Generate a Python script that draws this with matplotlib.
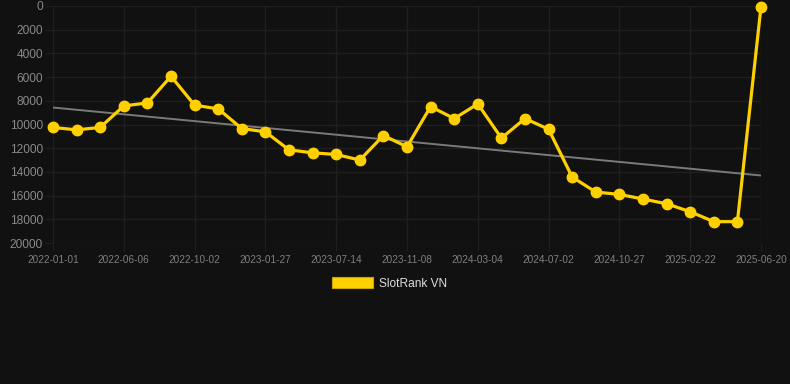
import matplotlib
matplotlib.use("Agg")
import matplotlib.pyplot as plt
from matplotlib.patches import Patch
import numpy as np

plt.rcParams['font.family'] = ['Liberation Sans', 'DejaVu Sans']

dates = ["2022-01-01", "2022-02-22", "2022-04-15", "2022-06-06", "2022-07-15", "2022-08-24",
         "2022-10-02", "2022-11-10", "2022-12-19", "2023-01-27", "2023-03-23", "2023-05-18",
         "2023-07-14", "2023-08-27", "2023-09-24", "2023-11-08", "2023-12-17", "2024-01-25",
         "2024-03-04", "2024-04-12", "2024-05-23", "2024-07-02", "2024-08-09", "2024-09-18",
         "2024-10-27", "2024-12-05", "2025-01-14", "2025-02-22", "2025-04-01", "2025-05-11",
         "2025-06-20"]
ranks = [10250, 10450, 10250, 8430, 8180, 5930, 8370, 8680, 10340, 10620, 12140, 12390,
         12530, 13000, 10930, 11880, 8490, 9500, 8260, 11150, 9500, 10400, 14440, 15700,
         15900, 16290, 16690, 17360, 18200, 18200, 60]
series_name = "SlotRank VN"
y_ticks = list(range(0, 20001, 2000))

BG = '#111111'
GRID = '#1f1f1f'
YELLOW = '#FFD000'

fig = plt.figure(figsize=(7.9, 3.84), dpi=100, facecolor=BG)
ax = fig.add_axes([53/790, 1-243/384, 708/790, 237/384], facecolor=BG)

x = np.arange(len(dates))
coef = np.polyfit(x, ranks, 1)
ax.plot(x, np.polyval(coef, x), color='#7a7a7a', lw=1.4, zorder=2)
ax.plot(x, ranks, color=YELLOW, lw=2.3, marker='o', markersize=7.5,
        markerfacecolor=YELLOW, markeredgecolor=YELLOW, zorder=3, clip_on=False)

ax.set_xlim(0, len(dates)-1)
ax.set_ylim(20000, 0)
ax.set_yticks(y_ticks)
ax.set_yticklabels([str(v) for v in y_ticks])
lab_idx = list(range(0, len(dates), 3))
ax.set_xticks(lab_idx)
ax.set_xticklabels([dates[i] for i in lab_idx])

ax.grid(True, color=GRID, lw=1)
for s in ax.spines.values():
    s.set_visible(False)
ax.tick_params(axis='y', length=5.8, color=GRID, labelcolor='#8a8a8a', labelsize=8.6, pad=1.5)
ax.tick_params(axis='x', length=5.8, color=GRID, labelcolor='#7f7f7f', labelsize=7.2, pad=2.5)

handle = Patch(facecolor=YELLOW, edgecolor='#c9a400', lw=0.8)
fig.legend([handle], [series_name], loc='center', bbox_to_anchor=(389.5/790, 1-283.5/384),
           frameon=False, fontsize=8.6, labelcolor='#dddddd', handlelength=3.4,
           handleheight=0.95, handletextpad=0.5, borderpad=0, borderaxespad=0)

fig.savefig('out.png', dpi=100, facecolor=BG)
